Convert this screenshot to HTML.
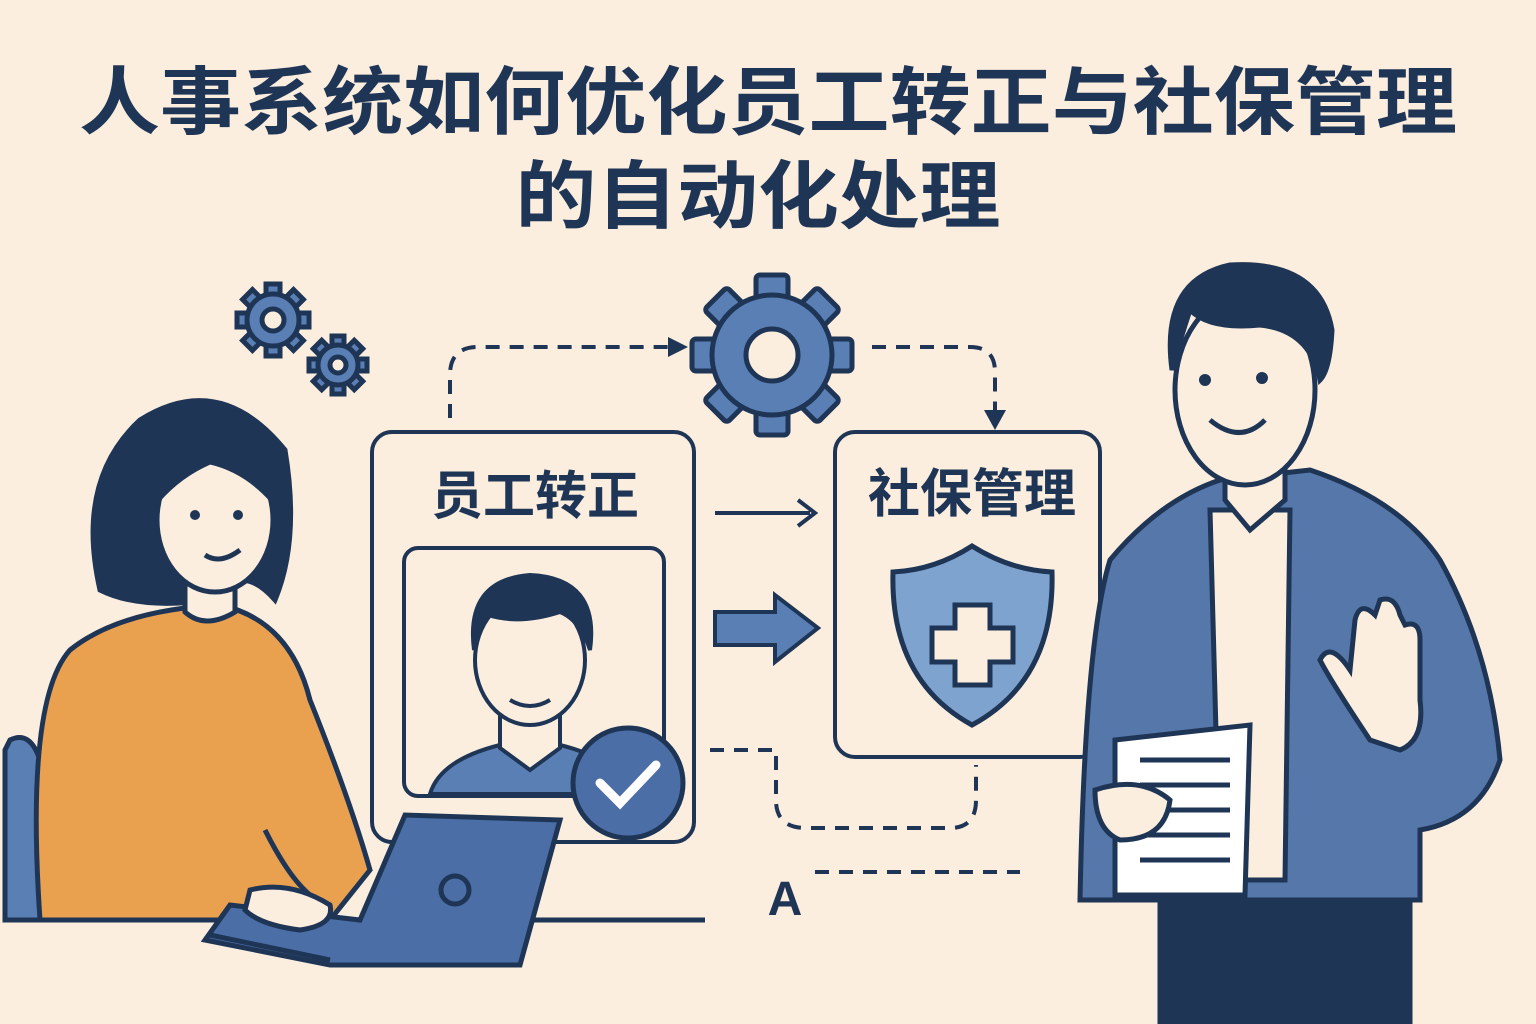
<!DOCTYPE html>
<html><head><meta charset="utf-8"><style>
html,body{margin:0;padding:0;background:#fbeedf;}
svg{display:block}
text{font-family:"Liberation Sans","Noto Sans CJK SC",sans-serif;font-weight:bold;fill:#1f3556}
</style></head><body>
<svg width="1536" height="1024" viewBox="0 0 1536 1024" xmlns="http://www.w3.org/2000/svg">
<rect width="1536" height="1024" fill="#fbeedf"/>
<text x="768" y="128" font-size="74" text-anchor="middle" textLength="1378" lengthAdjust="spacingAndGlyphs">人事系统如何优化员工转正与社保管理</text>
<text x="758" y="222" font-size="74" text-anchor="middle" textLength="485" lengthAdjust="spacingAndGlyphs">的自动化处理</text>

<g stroke="#1f3556" stroke-width="5" fill="#5a7fb4">
 <g transform="translate(273,320)">
  <g><rect x="-7" y="-36" width="14" height="14"/><rect x="-7" y="22" width="14" height="14"/>
  <rect x="-36" y="-7" width="14" height="14"/><rect x="22" y="-7" width="14" height="14"/>
  <g transform="rotate(45)"><rect x="-7" y="-36" width="14" height="14"/><rect x="-7" y="22" width="14" height="14"/>
  <rect x="-36" y="-7" width="14" height="14"/><rect x="22" y="-7" width="14" height="14"/></g></g>
  <circle r="26"/>
  <circle r="11" fill="#fbeedf"/>
 </g>
 <g transform="translate(338,365)">
  <g><rect x="-6" y="-29" width="12" height="12"/><rect x="-6" y="17" width="12" height="12"/>
  <rect x="-29" y="-6" width="12" height="12"/><rect x="17" y="-6" width="12" height="12"/>
  <g transform="rotate(45)"><rect x="-6" y="-29" width="12" height="12"/><rect x="-6" y="17" width="12" height="12"/>
  <rect x="-29" y="-6" width="12" height="12"/><rect x="17" y="-6" width="12" height="12"/></g></g>
  <circle r="20"/>
  <circle r="8" fill="#fbeedf"/>
 </g>
 <g transform="translate(772,355)">
  <g>
  <rect x="-16" y="-80" width="32" height="30" rx="4"/><rect x="-16" y="50" width="32" height="30" rx="4"/>
  <rect x="-80" y="-16" width="30" height="32" rx="4"/><rect x="50" y="-16" width="30" height="32" rx="4"/>
  <g transform="rotate(45)"><rect x="-16" y="-80" width="32" height="30" rx="4"/><rect x="-16" y="50" width="32" height="30" rx="4"/>
  <rect x="-80" y="-16" width="30" height="32" rx="4"/><rect x="50" y="-16" width="30" height="32" rx="4"/></g>
  </g>
  <circle r="60"/>
  <circle r="26" fill="#fbeedf"/>
 </g>
</g>

<g stroke="#1f3556" stroke-width="4" fill="none" stroke-dasharray="14 10">
 <path d="M450 418 V375 Q450 347 478 347 H670"/>
 <path d="M872 347 H970 Q995 347 995 372 V415"/>
 <path d="M710 750 H776 V800 Q776 828 806 828 H950 Q976 828 976 800 V765"/>
 <path d="M815 872 H1020"/>
</g>
<g fill="#1f3556">
 <path d="M668 337 L688 347 L668 357Z"/>
 <path d="M984 410 L995 430 L1006 410Z"/>
</g>

<rect x="372" y="432" width="322" height="410" rx="20" fill="#fbeedf" stroke="#1f3556" stroke-width="4"/>
<text x="535" y="514" font-size="52" text-anchor="middle">员工转正</text>
<rect x="404" y="548" width="260" height="248" rx="14" fill="#fbeedf" stroke="#1f3556" stroke-width="4"/>
<g stroke="#1f3556" stroke-width="4">
 <path d="M430 794 Q440 760 500 745 L560 745 Q620 760 630 794Z" fill="#5a7fb4"/>
 <path d="M500 700 V748 L530 770 L560 748 V700Z" fill="#fbeedf"/>
 <ellipse cx="530" cy="660" rx="55" ry="65" fill="#fbeedf"/>
 <path d="M474 650 Q465 580 530 575 Q600 578 590 650 Q580 620 560 612 Q520 625 488 615 Q478 630 474 650Z" fill="#1f3556"/>
 <path d="M510 700 Q530 712 550 700" fill="none"/>
</g>
<circle cx="628" cy="783" r="55" fill="#4a6ea5" stroke="#1f3556" stroke-width="5"/>
<path d="M600 783 L620 803 L656 765" stroke="#fff" stroke-width="9" fill="none" stroke-linecap="round"/>

<path d="M715 513 H810" stroke="#1f3556" stroke-width="4"/>
<path d="M798 500 L815 513 L798 526" stroke="#1f3556" stroke-width="4" fill="none"/>
<path d="M715 612 H775 V595 L818 628 L775 662 V645 H715Z" fill="#5a7fb4" stroke="#1f3556" stroke-width="4"/>

<rect x="835" y="432" width="265" height="325" rx="20" fill="#fbeedf" stroke="#1f3556" stroke-width="4"/>
<text x="972" y="512" font-size="52" text-anchor="middle">社保管理</text>
<path d="M972 546 Q1010 570 1052 572 Q1055 680 972 725 Q890 680 893 572 Q935 570 972 546Z" fill="#7fa3cf" stroke="#1f3556" stroke-width="5"/>
<path d="M955 605 H990 V628 H1013 V662 H990 V685 H955 V662 H932 V628 H955Z" fill="#fbeedf" stroke="#1f3556" stroke-width="5"/>

<text x="785" y="915" font-size="48" text-anchor="middle">A</text>

<!-- woman -->
<g stroke="#1f3556" stroke-width="5">
 <path d="M10 740 Q30 730 40 760 V920 H5 V750Z" fill="#5a7fb4"/>
 <path d="M100 590 Q75 480 140 420 Q220 370 285 450 Q300 540 275 600 Q240 560 210 600 Q140 610 100 590Z" fill="#1f3556"/>
 <path d="M40 920 Q25 700 70 650 Q120 610 220 605 Q290 620 310 700 Q350 800 370 870 L330 920Z" fill="#e9a04f"/>
 <path d="M185 560 V612 Q205 630 235 612 V560Z" fill="#fbeedf"/>
 <ellipse cx="215" cy="520" rx="58" ry="72" fill="#fbeedf"/>
 <path d="M158 500 Q160 430 225 425 Q278 435 272 500 Q245 470 210 462 Q180 475 158 500Z" fill="#1f3556"/>
 <path d="M205 555 Q220 565 240 550" fill="none"/>
 <path d="M40 920 H705" fill="none"/>
 <path d="M265 830 Q300 900 330 905" fill="none"/>
 <path d="M230 905 L205 940 L330 965 L520 965 L560 820 L405 815 L360 920Z" fill="#4a6ea5"/>
 <path d="M210 935 L330 960" fill="none"/>
 <circle cx="455" cy="890" r="14" fill="none"/>
 <path d="M250 890 Q290 880 330 905 Q335 925 300 930 Q260 925 245 910Z" fill="#fbeedf"/>
</g>
<g fill="#1f3556"><circle cx="195" cy="515" r="5"/><circle cx="238" cy="515" r="5"/></g>

<!-- man -->
<g stroke="#1f3556" stroke-width="5">
 <path d="M1160 1024 V880 H1410 V1024Z" fill="#1f3556"/>
 <path d="M1080 900 Q1085 640 1110 560 Q1160 500 1220 480 L1310 470 Q1400 500 1440 560 Q1490 650 1500 760 Q1480 820 1420 830 V900Z" fill="#5577aa"/>
 <path d="M1210 510 H1290 L1285 880 H1220Z" fill="#fbeedf"/>
 <path d="M1225 440 V500 L1250 530 L1285 500 V440Z" fill="#fbeedf"/>
 <ellipse cx="1245" cy="390" rx="70" ry="95" fill="#fbeedf"/>
 <path d="M1172 370 Q1160 280 1230 265 Q1320 260 1332 330 Q1330 370 1320 380 Q1310 330 1260 325 Q1210 330 1190 310 Q1180 340 1172 370Z" fill="#1f3556"/>
 <path d="M1210 420 Q1240 445 1265 420" fill="#fbeedf"/>
 <path d="M1115 740 L1250 725 L1245 895 L1115 895Z" fill="#fff"/>
 <path d="M1140 760 H1230 M1140 785 H1230 M1140 810 H1230 M1140 835 H1230 M1140 860 H1230" fill="none"/>
 <path d="M1095 790 Q1140 775 1170 800 Q1165 840 1120 840 Q1095 830 1095 790Z" fill="#fbeedf"/>
 <path d="M1370 740 Q1330 680 1320 660 Q1330 640 1350 670 L1355 620 Q1360 600 1375 615 L1380 600 Q1395 595 1400 615 L1405 625 Q1420 620 1420 640 V700 Q1425 740 1400 750Z" fill="#fbeedf"/>
</g>
<g fill="#1f3556"><circle cx="1205" cy="380" r="6"/><circle cx="1262" cy="378" r="6"/></g>
</svg>
</body></html>
